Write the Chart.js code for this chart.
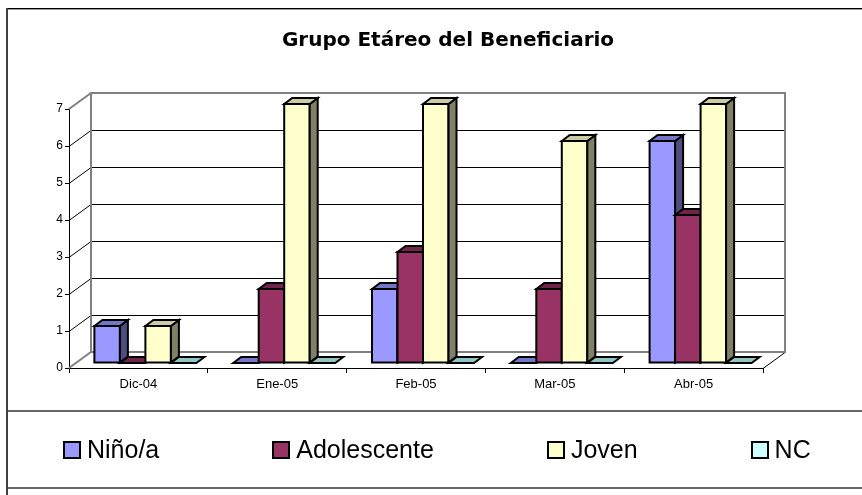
<!DOCTYPE html>
<html>
<head>
<meta charset="utf-8">
<script src="https://cdn.jsdelivr.net/npm/chart.js@4.4.1/dist/chart.umd.min.js"></script>
<style>
  html, body { margin: 0; padding: 0; background: #fff; overflow: hidden; }
  #caja { position: relative; width: 862px; height: 495px; overflow: hidden; }
  #grafico { position: absolute; left: 0; top: 0; }
  #leyenda {
    position: absolute; left: 63px; top: 437px;
    display: flex; gap: 113px;
    font: 25px "Liberation Sans", Arial, sans-serif; line-height: 25px; color: #000;
  }
  .item { display: flex; align-items: center; white-space: nowrap; }
  .cuadro { width: 18px; height: 18px; box-sizing: border-box; border: 2px solid #000; margin-right: 6px; }
</style>
</head>
<body>
<div id="caja">
  <canvas id="grafico" width="896" height="495" style="width:896px;height:495px"></canvas>
  <div id="leyenda"></div>
</div>
<script>
// Datos
const meses = ['Dic-04', 'Ene-05', 'Feb-05', 'Mar-05', 'Abr-05'];
const ninos = [1, 0, 2, 0, 6];
const adolescentes = [0, 2, 3, 2, 4];
const jovenes = [1, 7, 7, 6, 7];
const noContesta = [0, 0, 0, 0, 0];
const valorMaximo = 7;

// profundidad de las paredes y de las barras (efecto 3D)
const PX = 22, PY = -16;   // fondo
const BX = 7, BY = -5;     // posición de las barras
const DX = 8, DY = -6;     // grosor de las barras

Chart.defaults.font.family = '"Liberation Sans", Arial, sans-serif';
Chart.defaults.color = '#000';

function poligono(ctx, puntos, relleno) {
    ctx.beginPath();
    ctx.moveTo(puntos[0][0], puntos[0][1]);
    for (let i = 1; i < puntos.length; i++) {
        ctx.lineTo(puntos[i][0], puntos[i][1]);
    }
    ctx.closePath();
    ctx.fillStyle = relleno;
    ctx.fill();
    ctx.stroke();
}

const barras3d = {
    id: 'barras3d',
    beforeDraw(chart) {
        const ctx = chart.ctx;
        ctx.save();
        ctx.fillStyle = '#fff';
        ctx.fillRect(0, 0, chart.width, chart.height);
        // marco exterior
        ctx.fillStyle = '#000';
        ctx.fillRect(6, 8, chart.width, 1);
        ctx.fillStyle = '#999';
        ctx.fillRect(8, 9, chart.width, 1);
        ctx.fillStyle = '#404040';
        ctx.fillRect(6, 8, 2, chart.height);
        // caja de la leyenda
        ctx.fillStyle = '#666';
        ctx.fillRect(8, 410, chart.width, 2);
        ctx.fillRect(8, 487, chart.width, 2);
        ctx.restore();
    },
    beforeDatasetsDraw(chart) {
        const ctx = chart.ctx;
        const x = chart.scales.x, y = chart.scales.y;
        const L = x.left, R = x.right;
        const T = y.getPixelForValue(valorMaximo), B = y.getPixelForValue(0);
        ctx.save();
        ctx.strokeStyle = '#000';
        ctx.lineWidth = 1;
        y.ticks.forEach(t => {
            if (t.value <= 0 || t.value >= valorMaximo) return;
            const py = Math.round(y.getPixelForValue(t.value)) + 0.5;
            ctx.beginPath();
            ctx.moveTo(L, py);
            ctx.lineTo(L + PX, py + PY);
            ctx.lineTo(R + PX, py + PY);
            ctx.stroke();
        });
        ctx.beginPath();
        ctx.moveTo(R, B + 0.5);
        ctx.lineTo(R + PX, B + PY + 0.5);
        ctx.stroke();
        // bordes de las paredes
        ctx.strokeStyle = '#808080';
        ctx.lineWidth = 2;
        ctx.beginPath();
        ctx.moveTo(L, T);
        ctx.lineTo(L + PX, T + PY);
        ctx.lineTo(R + PX, T + PY);
        ctx.lineTo(R + PX, B + PY);
        ctx.lineTo(L + PX, B + PY);
        ctx.lineTo(L, B);
        ctx.moveTo(L + PX, T + PY);
        ctx.lineTo(L + PX, B + PY);
        ctx.stroke();
        ctx.restore();
    },
    beforeDatasetDraw() {
        return false;
    },
    afterDatasetsDraw(chart) {
        const ctx = chart.ctx;
        const datasets = chart.data.datasets;
        ctx.save();
        ctx.strokeStyle = '#000';
        ctx.lineWidth = 2;
        ctx.lineJoin = 'miter';
        for (let i = 0; i < chart.data.labels.length; i++) {
            for (let d = 0; d < datasets.length; d++) {
                const el = chart.getDatasetMeta(d).data[i];
                const p = el.getProps(['x', 'y', 'base', 'width'], true);
                const x0 = p.x - p.width / 2 + BX, x1 = p.x + p.width / 2 + BX;
                const y0 = p.y + BY, y1 = p.base + BY;
                const ds = datasets[d];
                if (y1 - y0 > 0.5) {
                    ctx.fillStyle = ds.backgroundColor;
                    ctx.fillRect(x0, y0, x1 - x0, y1 - y0);
                    ctx.strokeRect(x0, y0, x1 - x0, y1 - y0);
                    poligono(ctx, [[x1, y0], [x1 + DX, y0 + DY], [x1 + DX, y1 + DY], [x1, y1]], ds.colorLado);
                }
                poligono(ctx, [[x0, y0], [x0 + DX, y0 + DY], [x1 + DX, y0 + DY], [x1, y0]], ds.colorTecho);
            }
        }
        ctx.restore();
    }
};

const chart = new Chart(document.getElementById('grafico'), {
    type: 'bar',
    data: {
        labels: meses,
        datasets: [
            { label: 'Niño/a', data: ninos, backgroundColor: '#9999FF', colorTecho: '#7575C8', colorLado: '#4D4D80' },
            { label: 'Adolescente', data: adolescentes, backgroundColor: '#993366', colorTecho: '#70244A', colorLado: '#4D1A33' },
            { label: 'Joven', data: jovenes, backgroundColor: '#FFFFCC', colorTecho: '#CCCCA3', colorLado: '#808066' },
            { label: 'NC', data: noContesta, backgroundColor: '#CCFFFF', colorTecho: '#93C4C4', colorLado: '#668080' }
        ]
    },
    options: {
        responsive: false,
        animation: false,
        datasets: {
            bar: { categoryPercentage: 0.735, barPercentage: 1 }
        },
        layout: { padding: { bottom: 98.4 } },
        scales: {
            x: {
                grid: { display: true, drawOnChartArea: false, tickLength: 5, color: '#000' },
                border: { display: true, color: '#000', width: 1 },
                ticks: { font: { size: 13 }, padding: 4, color: '#000' }
            },
            y: {
                min: 0,
                max: valorMaximo,
                ticks: { stepSize: 1, font: { size: 12 }, padding: 2, color: '#000' },
                grid: { display: true, drawOnChartArea: false, tickLength: 4, color: '#000' },
                border: { display: true, color: '#000', width: 1 },
                afterFit: s => { s.width = 69; }
            },
            y2: {
                position: 'right',
                grid: { display: false },
                border: { display: false },
                ticks: { display: false },
                afterFit: s => { s.width = 133; }
            }
        },
        plugins: {
            legend: { display: false },
            tooltip: { enabled: false },
            title: {
                display: true,
                text: 'Grupo Etáreo del Beneficiario',
                color: '#000',
                font: { family: '"DejaVu Sans", sans-serif', size: 20, weight: 'bold' },
                padding: { top: 29, bottom: 56 }
            }
        }
    },
    plugins: [barras3d]
});

// Leyenda
const leyenda = document.getElementById('leyenda');
chart.data.datasets.forEach(ds => {
    const item = document.createElement('div');
    item.className = 'item';
    const cuadro = document.createElement('span');
    cuadro.className = 'cuadro';
    cuadro.style.background = ds.backgroundColor;
    const texto = document.createElement('span');
    texto.textContent = ds.label;
    item.appendChild(cuadro);
    item.appendChild(texto);
    leyenda.appendChild(item);
});
</script>
</body>
</html>
